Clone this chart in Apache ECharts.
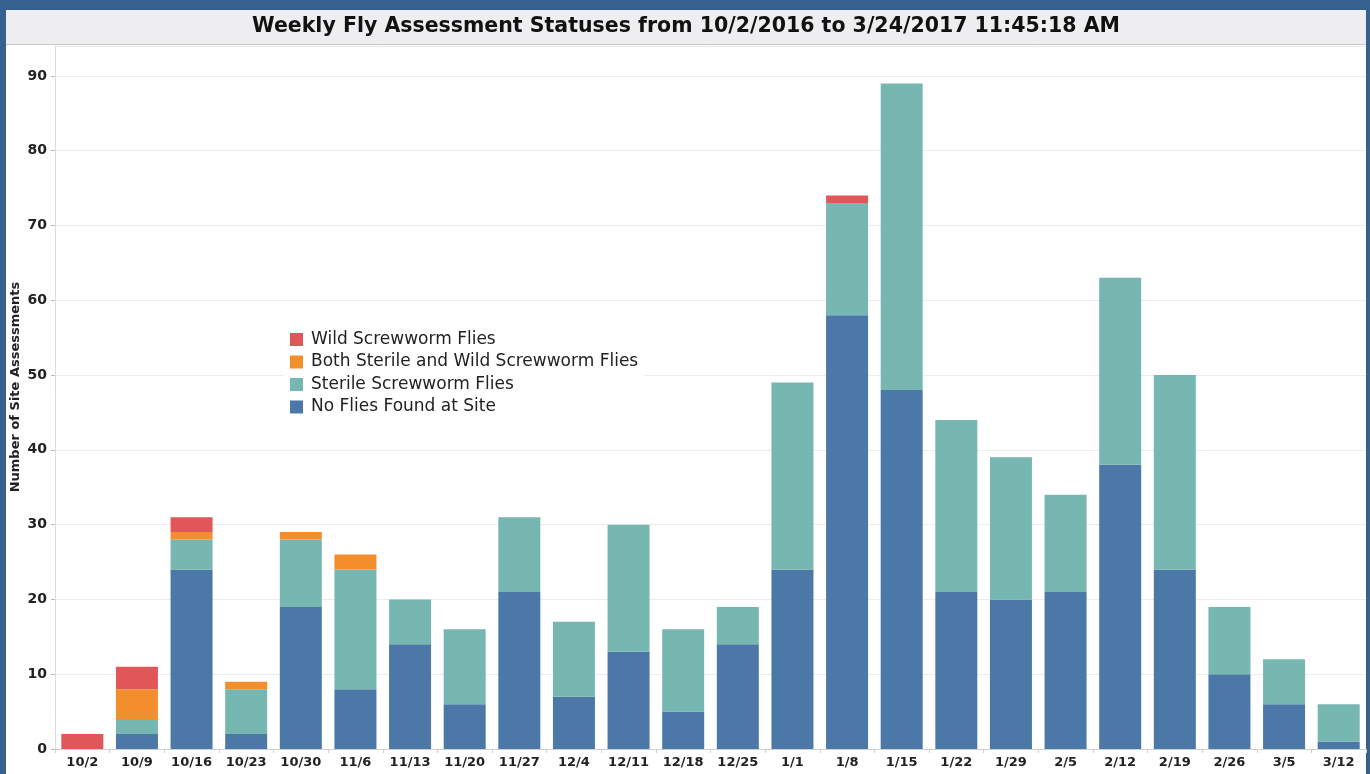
<!DOCTYPE html>
<html>
<head>
<meta charset="utf-8">
<script src="https://cdn.jsdelivr.net/npm/echarts@6/dist/echarts.min.js"></script>
<style>
html,body{margin:0;padding:0;background:#36608d;}
#c{width:1370px;height:774px;}
</style>
</head>
<body>
<div id="c"></div>
<script>
const titleText = 'Weekly Fly Assessment Statuses from 10/2/2016 to 3/24/2017 11:45:18 AM';
const yAxisName = 'Number of Site Assessments';
const weeks = ['10/2','10/9','10/16','10/23','10/30','11/6','11/13','11/20','11/27','12/4','12/11','12/18','12/25','1/1','1/8','1/15','1/22','1/29','2/5','2/12','2/19','2/26','3/5','3/12'];
const noFlies = [0,2,24,2,19,8,14,6,21,7,13,5,14,24,58,48,21,20,21,38,24,10,6,1];
const sterile = [0,2,4,6,9,16,6,10,10,10,17,11,5,25,15,41,23,19,13,25,26,9,6,5];
const both = [0,4,1,1,1,2,0,0,0,0,0,0,0,0,0,0,0,0,0,0,0,0,0,0];
const wild = [2,3,2,0,0,0,0,0,0,0,0,0,0,0,1,0,0,0,0,0,0,0,0,0];
const seriesNames = ['Wild Screwworm Flies','Both Sterile and Wild Screwworm Flies','Sterile Screwworm Flies','No Flies Found at Site'];
const colors = {wild:'#e15759', both:'#f28e2b', sterile:'#76b7b2', none:'#4c78a8'};

const chart = echarts.init(document.getElementById('c'));
const font = '"DejaVu Sans", Verdana, sans-serif';
function bar(name, data, color){
  return {name, type:'bar', stack:'s', data, barWidth:42,
    itemStyle:{color}, emphasis:{disabled:true}};
}
chart.setOption({
  backgroundColor:'#36608d',
  animation:false,
  graphic:[
    {type:'rect', shape:{x:6,y:10,width:1360,height:764}, style:{fill:'#ffffff'}, z:-10},
    {type:'rect', shape:{x:6,y:10,width:1360,height:34}, style:{fill:'#eeeef1'}, z:-9},
    {type:'line', shape:{x1:6,y1:44.5,x2:1366,y2:44.5}, style:{stroke:'#c9c9c9',lineWidth:1}, z:-8},
    {type:'text', x:686, y:27, style:{text:titleText, font:'bold 20.5px '+font, fill:'#111', align:'center', verticalAlign:'middle'}},
    {type:'text', x:16, y:387, rotation:Math.PI/2, style:{text:yAxisName, font:'bold 13px '+font, fill:'#222', align:'center', verticalAlign:'middle'}}
  ],
  legend:{
    orient:'vertical', left:284, top:328,
    data:seriesNames,
    itemWidth:13, itemHeight:13, itemGap:5.5,
    icon:'rect',
    backgroundColor:'#ffffff',
    padding:[3,6,3,6],
    textStyle:{fontFamily:font, fontSize:17, lineHeight:16, color:'#222', padding:[0,0,0,3]},
    selectedMode:false
  },
  grid:{left:55, right:4, top:46, bottom:25, containLabel:false},
  xAxis:{
    type:'category', data:weeks,
    axisLine:{lineStyle:{color:'#cfcfcf'}},
    axisTick:{show:true, length:4, lineStyle:{color:'#cfcfcf'}},
    axisLabel:{fontFamily:font, fontWeight:'bold', fontSize:13, color:'#222', margin:7, interval:0}
  },
  yAxis:{
    type:'value', min:0, max:94, interval:10,
    axisLine:{show:true, lineStyle:{color:'#dcdcdc'}},
    axisTick:{show:true, length:4, lineStyle:{color:'#bbbbbb'}},
    axisLabel:{fontFamily:font, fontWeight:'bold', fontSize:14, color:'#222', margin:8, showMaxLabel:false},
    splitLine:{lineStyle:{color:'#ececec'}}
  },
  series:[
    bar(seriesNames[3], noFlies, colors.none),
    bar(seriesNames[2], sterile, colors.sterile),
    bar(seriesNames[1], both, colors.both),
    bar(seriesNames[0], wild, colors.wild)
  ]
});
</script>
</body>
</html>
